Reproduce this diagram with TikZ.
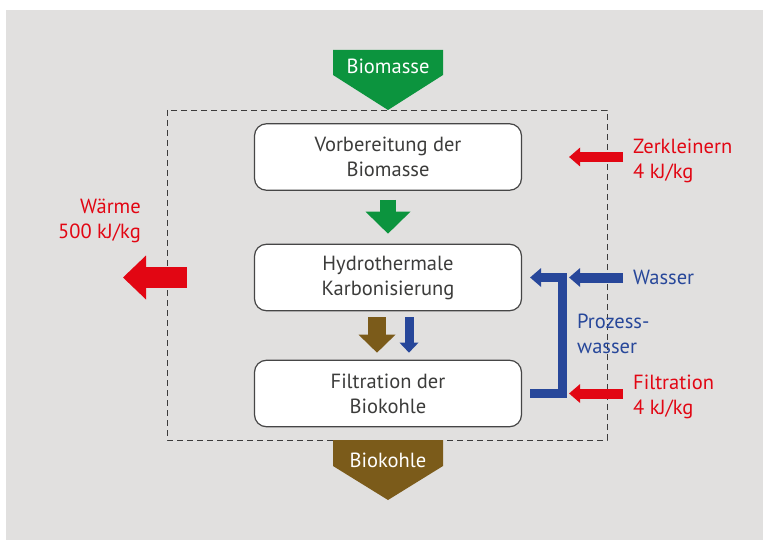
\documentclass[tikz,border=0pt]{standalone}
\usepackage{fontspec}
\setmainfont{PT Sans}
\usetikzlibrary{arrows.meta}
\definecolor{bggrey}{RGB}{225,224,223}
\definecolor{boxline}{RGB}{70,70,70}
\definecolor{textgrey}{RGB}{60,60,59}
\definecolor{dashgrey}{RGB}{60,60,60}
\definecolor{mred}{RGB}{226,6,19}
\definecolor{mblue}{RGB}{39,71,154}
\definecolor{mgreen}{RGB}{12,148,62}
\definecolor{coal}{RGB}{123,91,26}
\begin{document}
\begin{tikzpicture}[x=1pt, y=-1pt, line cap=butt, line join=miter, font=\fontsize{20.5}{25}\selectfont]
	\tikzset{box/.style={draw=boxline, line width=1.2pt, fill=white, rounded corners=12pt, minimum width=267pt, minimum height=66.5pt, align=center, text=textgrey, inner sep=0pt},
		note/.style={inner sep=0pt, align=left},
		inflow/.style={line width=10pt, -{Triangle[length=11pt, width=19pt, line width=0pt]}}}
	\useasboundingbox (0,0) rectangle (763,540);
	\fill[bggrey] (6,10) rectangle (763,540);
	\draw[dashgrey, line width=0.9pt, dash pattern=on 6pt off 4pt] (167,110) rectangle (607,440);
	\node[box] (prep) at (388,157) {Vorbereitung der\\Biomasse};
	\node[box] (htc) at (388,277.5) {Hydrothermale\\Karbonisierung};
	\node[box] (filt) at (388,393.5) {Filtration der\\Biokohle};
	\fill[mgreen] (333,50) -- (443,50) -- (443,75) -- (388,110) -- (333,75) -- cycle;
	\node[text=white, inner sep=0pt] (bm) at (388,66.5) {Biomasse};
	\fill[coal] (333,440) -- (443,440) -- (443,466) -- (388,500) -- (333,466) -- cycle;
	\node[text=white, inner sep=0pt] (bk) at (388,460) {Biokohle};
	\draw[mgreen, line width=16pt, -{Triangle[length=22pt, width=45pt, line width=0pt]}, shorten <=9pt, shorten >=10pt] (prep) -- (htc);
	\draw[coal, line width=18pt, -{Triangle[length=18pt, width=37pt, line width=0pt]}, shorten <=6pt, shorten >=7pt] ([xshift=-11pt]htc.south) -- ([xshift=-11pt]filt.north);
	\draw[mblue, line width=9pt, -{Triangle[length=10pt, width=19pt, line width=0pt]}, shorten <=6pt, shorten >=7pt] ([xshift=21pt]htc.south) -- ([xshift=21pt]filt.north);
	\coordinate (heat) at (123,277.5);
	\draw[mred, line width=21pt, -{Triangle[length=23pt, width=44pt, line width=0pt]}, shorten <=67pt] (htc.west) -- (heat);
	\coordinate (zin) at (623,157);
	\coordinate (win) at (623,277.5);
	\coordinate (fin) at (623,393.5);
	\draw[mred, inflow, shorten >=47pt] (zin) -- (prep.east);
	\draw[mblue, inflow, shorten >=47pt] (win) -- (htc.east);
	\draw[mred, inflow, shorten >=47pt] (fin) -- (filt.east);
	\draw[mblue, line width=9pt, -{Triangle[length=11pt, width=19pt, line width=0pt]}] ([xshift=8pt]filt.east) -| ([xshift=40.5pt]htc.east) -- ([xshift=8pt]htc.east);
	\node[note, text=mred, anchor=west] (zlab) at (633,161) {Zerkleinern\\4 kJ/kg};
	\node[note, text=mblue, anchor=base west] (wlab) at (633,284) {Wasser};
	\node[note, text=mblue, anchor=west] (plab) at (577,334) {Prozess-\\wasser};
	\node[note, text=mred, anchor=west] (flab) at (633,397) {Filtration\\4 kJ/kg};
	\node[note, text=mred, anchor=east, align=right] (hlab) at (141,221) {Wärme\\500 kJ/kg};
\end{tikzpicture}
\end{document}
